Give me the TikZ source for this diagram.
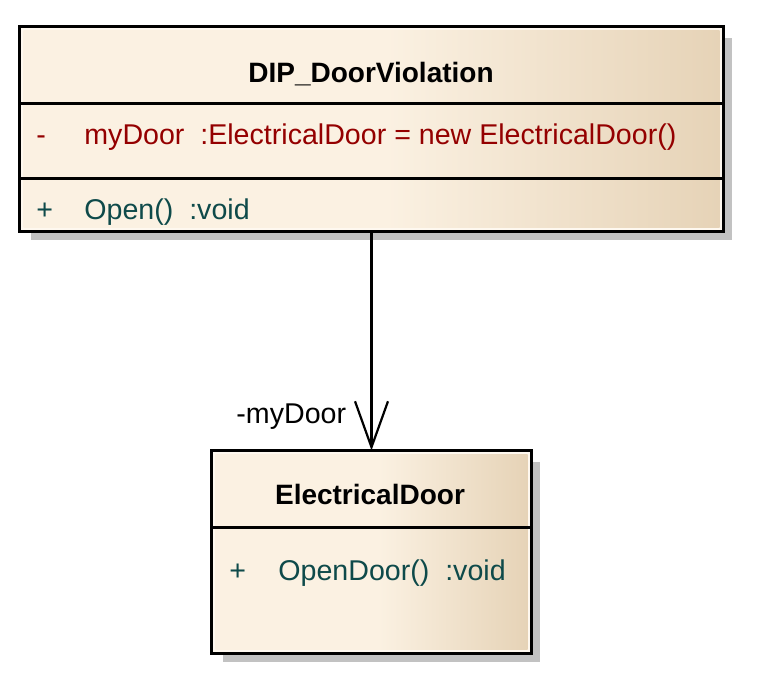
\documentclass[tikz,border=0pt]{standalone}
\usepackage{fontspec}
\setmainfont{Liberation Sans}
\usetikzlibrary{arrows.meta}
\usetikzlibrary{shadows}

\definecolor{boxlight}{HTML}{FBF1E2}
\definecolor{boxdark}{HTML}{E6D3B7}
\definecolor{boxedge}{HTML}{FEF8EF}
\definecolor{shadowgray}{HTML}{C2C2C2}
\definecolor{attrred}{HTML}{940000}
\definecolor{opteal}{HTML}{0E4A4A}

\pgfdeclarehorizontalshading{classfill}{100bp}{color(0bp)=(boxlight); color(25bp)=(boxlight); color(51bp)=(boxlight); color(75bp)=(boxdark); color(100bp)=(boxdark)}

\tikzset{
	classbox/.style={line width=1.5pt, fill=boxedge, inner sep=0pt,
		drop shadow={shadow xshift=5pt, shadow yshift=-5pt, fill=shadowgray, opacity=1}},
	sepline/.style={line width=1.4pt},
	classname/.style={anchor=base, inner sep=0pt, font=\fontsize{14}{17}\selectfont\bfseries},
	attr/.style={anchor=base west, inner sep=0pt, text=attrred, font=\fontsize{14.3}{17}\selectfont},
	oper/.style={anchor=base west, inner sep=0pt, text=opteal, font=\fontsize{14.3}{17}\selectfont},
	rolelabel/.style={anchor=base east, inner sep=0pt, font=\fontsize{14.3}{17}\selectfont},
	assoc/.style={line width=1.1pt, -{Straight Barb[length=23pt, width=16.5pt, line width=1.1pt]}}
}

\begin{document}
\begin{tikzpicture}[x=0.5pt, y=-0.5pt]
	\useasboundingbox (0,0) rectangle (761,687);

	% DIP_DoorViolation
	\node[classbox, minimum width=350.5pt, minimum height=101pt] (violation) at (371.5,129) {};
	\shade[shading=classfill] ([shift={(2pt,-2pt)}]violation.north west) rectangle ([shift={(-2pt,2pt)}]violation.south east);
	\draw[line width=1.5pt] (violation.north west) rectangle (violation.south east);
	\draw[sepline] ([yshift=-38.5pt]violation.north west) -- ([yshift=-38.5pt]violation.north east);
	\draw[sepline] ([yshift=-76pt]violation.north west) -- ([yshift=-76pt]violation.north east);
	\node[classname] (violationname) at (371,82) {DIP\_DoorViolation};
	\node[attr] (mydoorvis) at (36,144) {-};
	\node[attr] (mydoor) at (84,144) {myDoor\ \ :ElectricalDoor = new ElectricalDoor()};
	\node[oper] (openvis) at (36,219) {+};
	\node[oper] (open) at (84,219) {Open()\ \ :void};

	% ElectricalDoor
	\node[classbox, minimum width=158.5pt, minimum height=100pt] (door) at (371.5,552) {};
	\shade[shading=classfill] ([shift={(2pt,-2pt)}]door.north west) rectangle ([shift={(-2pt,2pt)}]door.south east);
	\draw[line width=1.5pt] (door.north west) rectangle (door.south east);
	\draw[sepline] ([yshift=-38.5pt]door.north west) -- ([yshift=-38.5pt]door.north east);
	\node[classname] (doorname) at (370,504) {ElectricalDoor};
	\node[oper] (opendoorvis) at (229,580) {+};
	\node[oper] (opendoor) at (278,580) {OpenDoor()\ \ :void};

	\draw[assoc] (violation.south) -- (door.north);
	\node[rolelabel] (role) at ([xshift=-12.5pt, yshift=13.5pt]door.north) {-myDoor};
\end{tikzpicture}
\end{document}
